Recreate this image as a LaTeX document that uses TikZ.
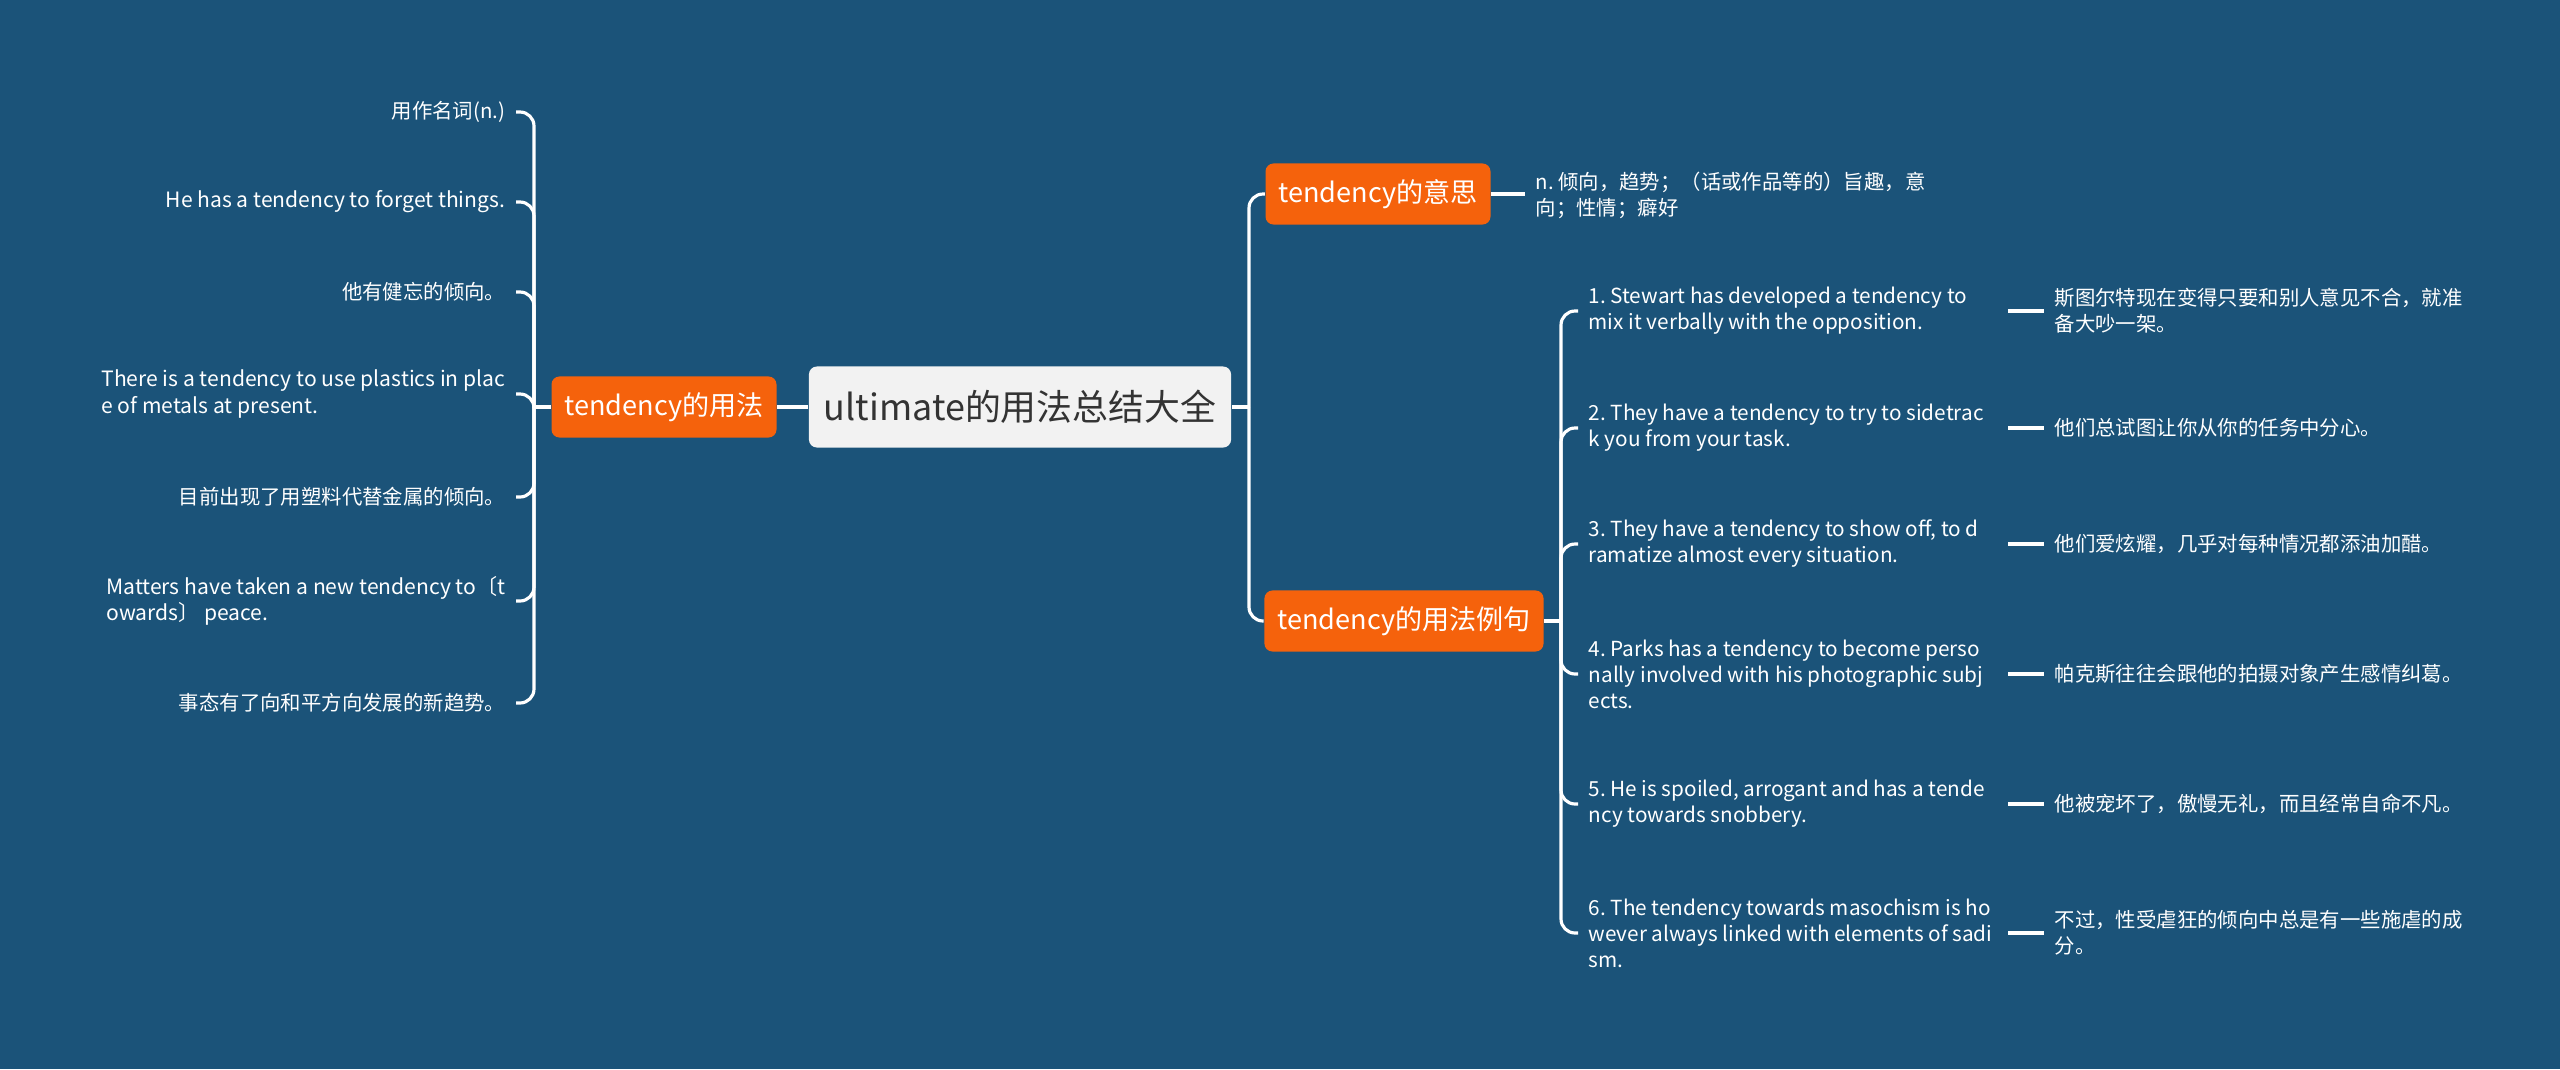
\documentclass[tikz,border=0pt]{standalone}
\usepackage{fontspec}
\setmainfont{Noto Sans CJK SC}
\frenchspacing
\hyphenpenalty=10000

\definecolor{bgblue}{HTML}{1B5379}
\definecolor{topicorange}{HTML}{F5620C}
\definecolor{rootgray}{HTML}{F2F2F2}

\begin{document}
\begin{tikzpicture}[x=0.01cm, y=-0.01cm,
  link/.style={white, line width=0.9pt, rounded corners=0.14cm},
  central/.style={fill=rootgray, text=black!80, rounded corners=0.08cm, minimum height=0.81cm, inner xsep=0.15cm, font=\fontsize{10.2pt}{12pt}\selectfont},
  topic/.style={fill=topicorange, text=white, rounded corners=0.08cm, minimum height=0.61cm, inner xsep=0.13cm, font=\fontsize{7.7pt}{9pt}\selectfont},
  leaf/.style={text=white, inner xsep=0.1cm, inner ysep=0.05cm, align=left, font=\fontsize{6pt}{7.4pt}\selectfont},
  sentence/.style={leaf, font=\fontsize{5.9pt}{7.4pt}\selectfont},
  cnleaf/.style={leaf, font=\fontsize{5.8pt}{7.4pt}\selectfont}]

\fill[bgblue] (0,0) rectangle (2560,1069);

\node[central] (root) at (1020,407) {ultimate的用法总结大全};
\node[topic] (use) at (664,407) {tendency的用法};
\node[topic] (mean) at (1378,194) {tendency的意思};
\node[topic] (ex) at (1404,621) {tendency的用法例句};

\coordinate (lhub) at (534,407);
\coordinate (rhub) at (1249,407);
\coordinate (ehub) at (1561,621);
\coordinate (tcol) at (2008,0);

% left branch
\node[cnleaf, anchor=east] (u1) at (516,112) {用作名词(n.)};
\node[leaf, anchor=east] (u2) at (516,202) {He has a tendency to forget things.};
\node[cnleaf, anchor=east] (u3) at (516,292) {他有健忘的倾向。};
\node[leaf, anchor=east] (u4) at (516,394) {There is a tendency to use plastics in plac\\e of metals at present.};
\node[cnleaf, anchor=east] (u5) at (516,497) {目前出现了用塑料代替金属的倾向。};
\node[leaf, anchor=east] (u6) at (516,601) {Matters have taken a new tendency to〔t\\owards〕 peace.};
\node[cnleaf, anchor=east] (u7) at (516,703) {事态有了向和平方向发展的新趋势。};

% right branch
\node[cnleaf, anchor=west] (mt) at (1525,195) {n. 倾向，趋势；（话或作品等的）旨趣，意\\向；性情；癖好};

\node[sentence, anchor=west] (e1) at (1578,311) {1. Stewart has developed a tendency to\\mix it verbally with the opposition.};
\node[sentence, anchor=west] (e2) at (1578,428) {2. They have a tendency to try to sidetrac\\k you from your task.};
\node[sentence, anchor=west] (e3) at (1578,544) {3. They have a tendency to show off, to d\\ramatize almost every situation.};
\node[sentence, anchor=west] (e4) at (1578,674) {4. Parks has a tendency to become perso\\nally involved with his photographic subj\\ects.};
\node[sentence, anchor=west] (e5) at (1578,804) {5. He is spoiled, arrogant and has a tende\\ncy towards snobbery.};
\node[sentence, anchor=west] (e6) at (1578,933) {6. The tendency towards masochism is ho\\wever always linked with elements of sadi\\sm.};

\node[cnleaf, anchor=west] (t1) at (2044,311) {斯图尔特现在变得只要和别人意见不合，就准\\备大吵一架。};
\node[cnleaf, anchor=west] (t2) at (2044,428) {他们总试图让你从你的任务中分心。};
\node[cnleaf, anchor=west] (t3) at (2044,544) {他们爱炫耀，几乎对每种情况都添油加醋。};
\node[cnleaf, anchor=west] (t4) at (2044,674) {帕克斯往往会跟他的拍摄对象产生感情纠葛。};
\node[cnleaf, anchor=west] (t5) at (2044,804) {他被宠坏了，傲慢无礼，而且经常自命不凡。};
\node[cnleaf, anchor=west] (t6) at (2044,933) {不过，性受虐狂的倾向中总是有一些施虐的成\\分。};

\draw[link] (root.west) -- (use.east);
\draw[link] (use.west) -- (lhub);
\foreach \n in {u1,u2,u3,u4,u5,u6,u7}
  \draw[link] (lhub) |- (\n.east);

\draw[link] (root.east) -- (rhub);
\draw[link] (rhub) |- (mean.west);
\draw[link] (rhub) |- (ex.west);
\draw[link] (mean.east) -- (mean.east -| mt.west);

\draw[link] (ex.east) -- (ehub);
\foreach \i in {1,...,6} {
  \draw[link] (ehub) |- (e\i.west);
  \draw[link] (e\i.east -| tcol) -- (t\i.west);
}
\end{tikzpicture}
\end{document}
